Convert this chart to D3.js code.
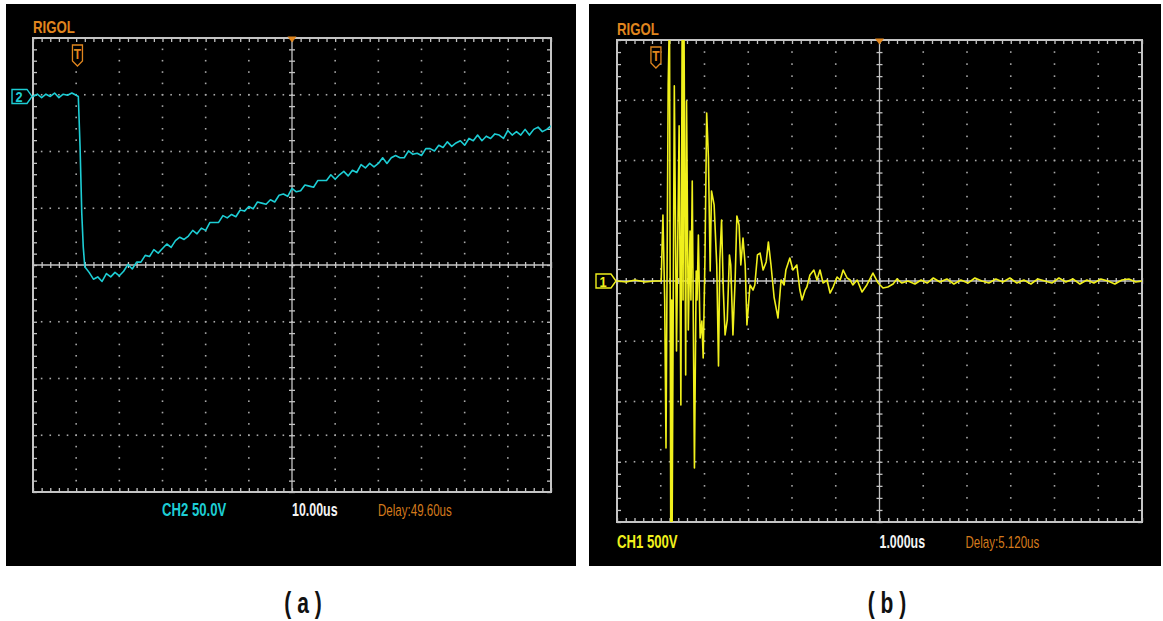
<!DOCTYPE html>
<html>
<head>
<meta charset="utf-8">
<script src="https://cdn.jsdelivr.net/npm/d3@7"></script>
<style>
body { margin: 0; background: #fff; }
text { font-family: "Liberation Sans", Arial, sans-serif; }
</style>
</head>
<body>
<script>
// CH2 (panel a): time in us from left edge of screen, volts relative to channel ground
const ch2Time = [0, 1, 2, 3, 4, 5, 6, 7, 8, 9, 10, 10.5, 10.9, 11.3, 11.65, 12,
  13, 14, 15, 16, 17, 18, 19, 20, 21, 22, 23, 24, 25, 26, 27, 28, 29, 30,
  31, 32, 33, 34, 35, 36, 37, 38, 39, 40, 41, 42, 43, 44, 45, 46, 47, 48, 49, 50,
  51, 52, 53, 54, 55, 56, 57, 58, 59, 60, 61, 62, 63, 64, 65, 66, 67, 68, 69, 70,
  71, 72, 73, 74, 75, 76, 77, 78, 79, 80, 81, 82, 83, 84, 85, 86, 87, 88, 89, 90,
  91, 92, 93, 94, 95, 96, 97, 98, 99, 100, 101, 102, 103, 104, 105, 106, 107, 108, 109, 110,
  111, 112, 113, 114, 115, 116, 117, 118, 119, 120];
const ch2Volts = [0, 2, -1, 2, 0, 3, -1, 2, 1, 3, 1, 0, -44, -103, -133, -150,
  -155, -161, -159, -163, -156, -159, -155, -158, -154, -148, -152, -146, -146, -140, -141, -135, -138, -134,
  -130, -133, -127, -124, -126, -123, -118, -121, -116, -118, -111, -111, -111, -105, -107, -104, -106, -100, -101, -97,
  -99, -93, -94, -95, -91, -93, -87, -86, -88, -81, -84, -83, -78, -79, -80, -74, -74, -74, -69, -73,
  -69, -66, -70, -65, -67, -60, -63, -59, -62, -59, -54, -59, -54, -52, -54, -54, -48, -51, -50, -52,
  -46, -46, -48, -43, -45, -40, -44, -41, -39, -43, -37, -39, -34, -39, -35, -37, -33, -34, -37, -30,
  -34, -31, -34, -29, -34, -29, -27, -31, -29, -26];

// CH1 (panel b)
const ch1Time = [0.00, 0.21, 0.41, 0.64, 0.87, 1.01, 1.05, 1.09, 1.12, 1.17, 1.20, 1.23, 1.25, 1.26, 1.31, 1.36,
  1.42, 1.46, 1.49, 1.51, 1.53, 1.57, 1.59, 1.63, 1.67, 1.69, 1.72, 1.77, 1.81, 1.83, 1.86, 1.90, 1.94, 1.97,
  2.01, 2.05, 2.09, 2.13, 2.16, 2.22, 2.28, 2.32, 2.35, 2.39, 2.43, 2.47, 2.52, 2.57, 2.60, 2.65, 2.70, 2.74,
  2.79, 2.83, 2.88, 2.93, 2.97, 3.04, 3.11, 3.15, 3.21, 3.27, 3.34, 3.41, 3.46, 3.52, 3.59, 3.68, 3.75, 3.82,
  3.86, 3.95, 4.02, 4.11, 4.18, 4.23, 4.30, 4.34, 4.41, 4.50, 4.57, 4.64, 4.71, 4.80, 4.87, 4.94, 5.03, 5.10,
  5.17, 5.26, 5.33, 5.39, 5.49, 5.60, 5.71, 5.85, 5.97, 6.08, 6.19, 6.31, 6.40, 6.51,
  6.65, 6.81, 6.95, 7.09, 7.23, 7.38, 7.54, 7.70, 7.86, 8.02, 8.18, 8.34, 8.50, 8.66, 8.82, 8.98, 9.14, 9.30,
  9.46, 9.62, 9.78, 9.94, 10.10, 10.26, 10.42, 10.58, 10.74, 10.90, 11.06, 11.22, 11.38, 11.54, 11.70, 11.86, 12.00];
const ch1Volts = [0, -8, 8, -8, 0, 0, 548, -158, -1386, 1627, 2249, -2316, -158, -2067, 1619, -581,
  1287, -1029, 2249, -158, 2249, -780, 1494, -407, 415, -158, 830, -1552, 83, -158, 382, -473, -332, -639,
  174, 1394, 1021, 83, 747, 631, 133, -706, 174, 506, -75, -448, -324, 216, 133, -448, 8, 540,
  465, 133, 357, 133, -365, -33, -75, -33, 216, 232, 91, 158, 324, 133, -133, -307, 8, -33,
  91, 191, 91, 133, -75, -158, -75, -50, 50, 91, 8, 91, -17, 8, -100, -50, 33, 8,
  91, 25, 8, -33, 8, -91, -33, 66, -17, -58, -50, -25, 17, -17,
  0, -25, 8, -17, 25, -8, 17, -25, 8, -17, 25, 0, -17, 17, -8, 25, -17, 8,
  -25, 17, 0, -17, 25, -8, 17, -25, 8, -17, 17, 0, -25, 8, 17, -8, 0];

const channelNames = ["2", "1"];
const channelLabels = ["CH2 50.0V", "CH1 500V"];
const timebaseLabels = ["10.00us", "1.000us"];
const delayLabels = ["Delay:49.60us", "Delay:5.120us"];
const timePerDiv = [10, 1];        // us
const voltsPerDiv = [50, 500];     // V
const triggerTimes = [10.3, 0.89]; // us from screen left
const captions = ["( a )", "( b )"];

const orange = "#e0861e";
const gridGrey = "#c4c4c4";

const svg = d3.select("body").append("svg")
    .attr("width", 1163)
    .attr("height", 621);

// narrow scope-style lettering: Liberation Sans squeezed horizontally
function narrowText(parent, x, y, str, size, sx, opts) {
    const t = parent.append("text")
        .attr("transform", `translate(${x},${y}) scale(${sx},1)`)
        .attr("font-size", size)
        .attr("font-weight", opts.bold ? "bold" : "normal")
        .attr("fill", opts.fill)
        .text(str);
    if (opts.anchor) t.attr("text-anchor", opts.anchor);
    return t;
}

const panels = [
    { bx: 6, bw: 570, gx0: 33, gx1: 551, gy0: 38, gy1: 492, offsetDiv: 2.97, color: "#1dcdd4",
      time: ch2Time, volts: ch2Volts, chX: 162, textY: 516, capX: 303 },
    { bx: 589, bw: 572, gx0: 617, gx1: 1142, gy0: 40, gy1: 522, offsetDiv: 0, color: "#f0f01c",
      time: ch1Time, volts: ch1Volts, chX: 617, textY: 548, capX: 887 }
];

panels.forEach((p, i) => {
    const g = svg.append("g");
    const tDiv = timePerDiv[i], vDiv = voltsPerDiv[i];

    g.append("rect")
        .attr("x", p.bx).attr("y", 4)
        .attr("width", p.bw).attr("height", 562)
        .attr("fill", "#000");

    const x = d3.scaleLinear().domain([0, 12 * tDiv]).range([p.gx0, p.gx1]);
    const vc = -p.offsetDiv * vDiv;
    const y = d3.scaleLinear().domain([vc + 4 * vDiv, vc - 4 * vDiv]).range([p.gy0, p.gy1]);

    const xMinor = d3.range(0, 61).map(k => k * tDiv / 5);
    const yMinor = d3.range(0, 41).map(k => vc - 4 * vDiv + k * vDiv / 5);

    // dotted division lines
    const dots = [];
    for (let k = 1; k < 12; k++) {
        if (k === 6) continue;
        yMinor.forEach(v => dots.push([x(k * tDiv), y(v)]));
    }
    for (let j = 1; j < 8; j++) {
        if (j === 4) continue;
        const v = vc - 4 * vDiv + j * vDiv;
        xMinor.forEach(t => dots.push([x(t), y(v)]));
    }
    g.append("g").selectAll("rect")
        .data(dots)
        .enter().append("rect")
        .attr("x", d => d[0] - 0.8).attr("y", d => d[1] - 0.8)
        .attr("width", 1.6).attr("height", 1.6)
        .attr("fill", "#a8a8a8");

    // border ticks via axes
    const tickStyle = sel => {
        sel.select(".domain").remove();
        sel.selectAll("text").remove();
        sel.selectAll("line").attr("stroke", gridGrey).attr("stroke-width", 1.3);
    };
    g.append("g").attr("transform", `translate(0,${p.gy0})`)
        .call(d3.axisBottom(x).tickValues(xMinor).tickSize(4)).call(tickStyle);
    g.append("g").attr("transform", `translate(0,${p.gy1})`)
        .call(d3.axisTop(x).tickValues(xMinor).tickSize(4)).call(tickStyle);
    g.append("g").attr("transform", `translate(${p.gx0},0)`)
        .call(d3.axisRight(y).tickValues(yMinor).tickSize(4)).call(tickStyle);
    g.append("g").attr("transform", `translate(${p.gx1},0)`)
        .call(d3.axisLeft(y).tickValues(yMinor).tickSize(4)).call(tickStyle);

    // centre cross with tick marks
    const cy = y(vc), cx = x(6 * tDiv);
    g.append("line").attr("x1", p.gx0).attr("x2", p.gx1).attr("y1", cy).attr("y2", cy)
        .attr("stroke", gridGrey).attr("stroke-width", 1.3);
    g.append("line").attr("x1", cx).attr("x2", cx).attr("y1", p.gy0).attr("y2", p.gy1)
        .attr("stroke", gridGrey).attr("stroke-width", 1.3);
    g.append("g").attr("transform", `translate(0,${cy - 3})`)
        .call(d3.axisBottom(x).tickValues(xMinor).tickSize(6)).call(tickStyle);
    g.append("g").attr("transform", `translate(${cx - 3},0)`)
        .call(d3.axisRight(y).tickValues(yMinor).tickSize(6)).call(tickStyle);

    g.append("rect")
        .attr("x", p.gx0).attr("y", p.gy0)
        .attr("width", p.gx1 - p.gx0).attr("height", p.gy1 - p.gy0)
        .attr("fill", "none")
        .attr("stroke", gridGrey)
        .attr("stroke-width", 2);

    // trace
    const clipId = "clip" + i;
    g.append("clipPath").attr("id", clipId)
        .append("rect")
        .attr("x", p.gx0).attr("y", p.gy0)
        .attr("width", p.gx1 - p.gx0).attr("height", p.gy1 - p.gy0);

    const pts = p.time.map((t, k) => [t, p.volts[k]]).filter(d => d[1] !== undefined);
    const line = d3.line().x(d => x(d[0])).y(d => y(d[1]));
    g.append("path")
        .datum(pts)
        .attr("clip-path", `url(#${clipId})`)
        .attr("d", line)
        .attr("fill", "none")
        .attr("stroke", p.color)
        .attr("stroke-width", 1.6)
        .attr("stroke-linejoin", "round");

    // channel ground marker
    const gy = y(0);
    g.append("path")
        .attr("d", `M${p.gx0 - 21},${gy - 7}h15l5,7l-5,7h-15Z`)
        .attr("fill", "#000")
        .attr("stroke", p.color)
        .attr("stroke-width", 1.4);
    narrowText(g, p.gx0 - 14, gy + 5.5, channelNames[i], 15, 0.85, { bold: true, fill: p.color, anchor: "middle" });

    // trigger position marker
    const tx = x(triggerTimes[i]);
    const ty = p.gy0 + 7;
    g.append("path")
        .attr("d", `M${tx - 5},${ty}h10v16l-5,5l-5,-5Z`)
        .attr("fill", "#000")
        .attr("stroke", orange)
        .attr("stroke-width", 1.3);
    narrowText(g, tx, ty + 14, "T", 15, 0.8, { bold: true, fill: orange, anchor: "middle" });

    // centre marker on top edge
    g.append("path")
        .attr("d", `M${cx - 4.5},${p.gy0 - 1.5}h9l-4.5,6Z`)
        .attr("fill", orange);

    narrowText(g, p.gx0, p.gy0 - 5, "RIGOL", 16.5, 0.8, { bold: true, fill: orange });

    narrowText(g, p.chX, p.textY, channelLabels[i], 18, 0.73, { bold: true, fill: p.color });
    narrowText(g, cx, p.textY, timebaseLabels[i], 18, 0.69, { bold: true, fill: "#f4f4f4" });
    narrowText(g, cx + 86, p.textY, delayLabels[i], 16.5, 0.7, { bold: false, fill: "#d47a1c" });

    narrowText(svg, p.capX, 613, captions[i], 30, 0.7, { bold: true, fill: "#111", anchor: "middle" });
});
</script>
</body>
</html>
